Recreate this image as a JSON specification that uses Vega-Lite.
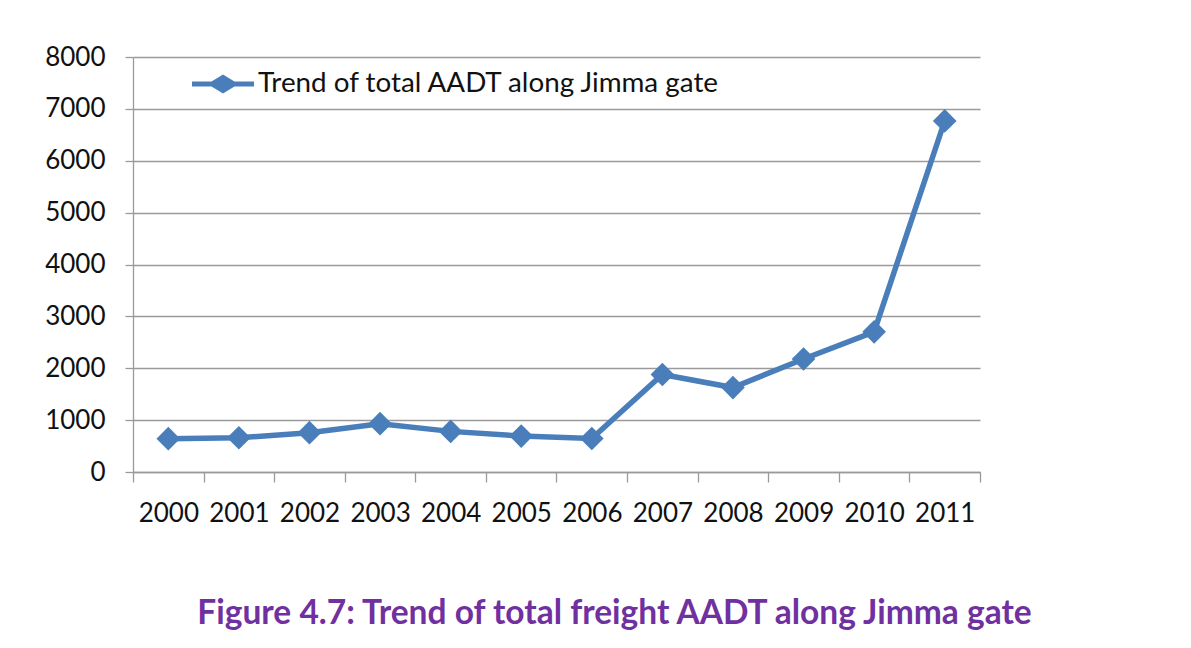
{
  "$schema": "https://vega.github.io/schema/vega-lite/v6.json",
  "width": 847,
  "height": 415,
  "autosize": "none",
  "padding": {"left": 133, "top": 57, "right": 211, "bottom": 176},
  "background": "white",
  "config": {
    "font": "Lato",
    "view": {"stroke": null},
    "axis": {"labelFont": "Lato", "labelFontSize": 26, "labelColor": "#111", "domainColor": "#9a9a9a", "tickColor": "#9a9a9a", "gridColor": "#9a9a9a", "domainWidth": 1.3, "tickWidth": 1.3, "gridWidth": 1.3}
  },
  "title": {
    "text": "Figure 4.7: Trend of total freight AADT along Jimma gate",
    "orient": "bottom",
    "anchor": "middle",
    "dx": 58,
    "offset": 72,
    "font": "Lato",
    "fontSize": 33.5,
    "fontWeight": "bold",
    "color": "#7030A0"
  },
  "data": {
    "values": [
      {"year": "2000", "aadt": 642, "series": "Trend of total AADT along Jimma gate"},
      {"year": "2001", "aadt": 660, "series": "Trend of total AADT along Jimma gate"},
      {"year": "2002", "aadt": 758, "series": "Trend of total AADT along Jimma gate"},
      {"year": "2003", "aadt": 932, "series": "Trend of total AADT along Jimma gate"},
      {"year": "2004", "aadt": 783, "series": "Trend of total AADT along Jimma gate"},
      {"year": "2005", "aadt": 692, "series": "Trend of total AADT along Jimma gate"},
      {"year": "2006", "aadt": 645, "series": "Trend of total AADT along Jimma gate"},
      {"year": "2007", "aadt": 1880, "series": "Trend of total AADT along Jimma gate"},
      {"year": "2008", "aadt": 1628, "series": "Trend of total AADT along Jimma gate"},
      {"year": "2009", "aadt": 2178, "series": "Trend of total AADT along Jimma gate"},
      {"year": "2010", "aadt": 2702, "series": "Trend of total AADT along Jimma gate"},
      {"year": "2011", "aadt": 6768, "series": "Trend of total AADT along Jimma gate"}
    ]
  },
  "layer": [
    {
      "mark": {"type": "line", "strokeWidth": 5.5},
      "encoding": {
        "x": {"field": "year", "type": "ordinal", "scale": {"type": "band", "paddingInner": 0, "paddingOuter": 0},
          "axis": {"title": null, "labelAngle": 0, "tickBand": "extent", "tickSize": 10, "labelPadding": 18, "grid": false}},
        "y": {"field": "aadt", "type": "quantitative", "scale": {"domain": [0, 8000], "nice": false},
          "axis": {"title": null, "format": "d", "values": [0, 1000, 2000, 3000, 4000, 5000, 6000, 7000, 8000], "tickSize": 8, "labelPadding": 20, "grid": true, "domain": true}},
        "color": {"field": "series", "type": "nominal", "scale": {"range": ["#4A7EBB"]},
          "legend": {"title": null, "orient": "none", "legendX": 59, "legendY": -4,
            "symbolType": "M-1,-0.08H-0.37L0,-0.31L0.37,-0.08H1V0.08H0.37L0,0.31L-0.37,0.08H-1Z",
            "symbolSize": 3844, "symbolFillColor": "#4A7EBB", "symbolStrokeWidth": 0, "symbolOpacity": 1,
            "labelFont": "Lato", "labelFontSize": 27.8, "labelColor": "#111", "labelOffset": 4, "labelLimit": 700}}
      }
    },
    {
      "mark": {"type": "point", "shape": "diamond", "size": 560, "filled": true, "opacity": 1},
      "encoding": {
        "x": {"field": "year", "type": "ordinal"},
        "y": {"field": "aadt", "type": "quantitative"},
        "color": {"field": "series", "type": "nominal"}
      }
    }
  ]
}
